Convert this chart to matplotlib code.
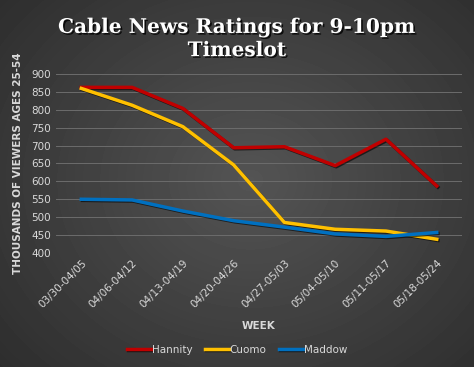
import numpy as np
import matplotlib
matplotlib.use("Agg")
import matplotlib.pyplot as plt
import matplotlib.patheffects as pe

weeks = ["03/30-04/05", "04/06-04/12", "04/13-04/19", "04/20-04/26",
         "04/27-05/03", "05/04-05/10", "05/11-05/17", "05/18-05/24"]
hannity = [863, 863, 804, 694, 697, 644, 718, 587]
cuomo = [860, 813, 753, 646, 485, 466, 461, 438]
maddow = [550, 548, 517, 490, 472, 453, 446, 457]

fig = plt.figure(figsize=(4.74, 3.67), dpi=100)

# grey background, lighter in the middle
bg = fig.add_axes([0, 0, 1, 1], zorder=-10)
yy, xx = np.mgrid[0:367, 0:474]
r = np.sqrt(((xx - 250) / 330.0) ** 2 + ((yy - 180) / 280.0) ** 2)
shade = np.clip(0.33 - 0.15 * r, 0.17, 0.33)
bg.imshow(shade, cmap="gray", vmin=0, vmax=1, aspect="auto")
bg.axis("off")

ax = fig.add_axes([0.118, 0.311, 0.857, 0.487])
ax.patch.set_alpha(0)

shadow = [pe.SimpleLineShadow(offset=(0.8, -0.8), shadow_color="black", alpha=0.6), pe.Normal()]
x = np.arange(len(weeks))
ax.plot(x, hannity, color="#c00000", lw=2.5, label="Hannity", path_effects=shadow, zorder=3)
ax.plot(x, cuomo, color="#ffc000", lw=2.5, label="Cuomo", path_effects=shadow, zorder=3)
ax.plot(x, maddow, color="#0070c0", lw=2.5, label="Maddow", path_effects=shadow, zorder=3)

ax.set_xlim(-0.5, len(weeks) - 0.5)
ax.set_ylim(400, 900)
ax.set_yticks(range(400, 901, 50))
ax.yaxis.grid(True, color="#6c6c6c", lw=0.7)
ax.set_axisbelow(True)
for s in ax.spines.values():
    s.set_visible(False)
ax.tick_params(axis="both", length=0, colors="#d9d9d9", labelsize=7.5)
ax.set_xticks(x)
ax.set_xticklabels(weeks, rotation=45, ha="right", rotation_mode="anchor")

ax.set_xlabel("WEEK", color="#d9d9d9", fontsize=7.5, fontweight="bold", labelpad=8)
ax.set_ylabel("THOUSANDS OF VIEWERS AGES 25-54", color="#d9d9d9", fontsize=7.5,
              fontweight="bold", labelpad=6)

leg = fig.legend(loc="center", bbox_to_anchor=(0.5, 0.047), ncol=3, frameon=False,
                 fontsize=7.5, handlelength=2.3, handletextpad=0.1, columnspacing=1.2,
                 labelcolor="#d9d9d9")

title = fig.text(0.5, 0.895, "Cable News Ratings for 9-10pm\nTimeslot", ha="center", va="center",
                 fontsize=14.5, fontweight="bold", family="DejaVu Serif", color="white",
                 linespacing=1.2)
title.set_path_effects([pe.withSimplePatchShadow(offset=(1.2, -1.2), shadow_rgbFace="black", alpha=0.8)])

fig.savefig("out.png", dpi=100)
